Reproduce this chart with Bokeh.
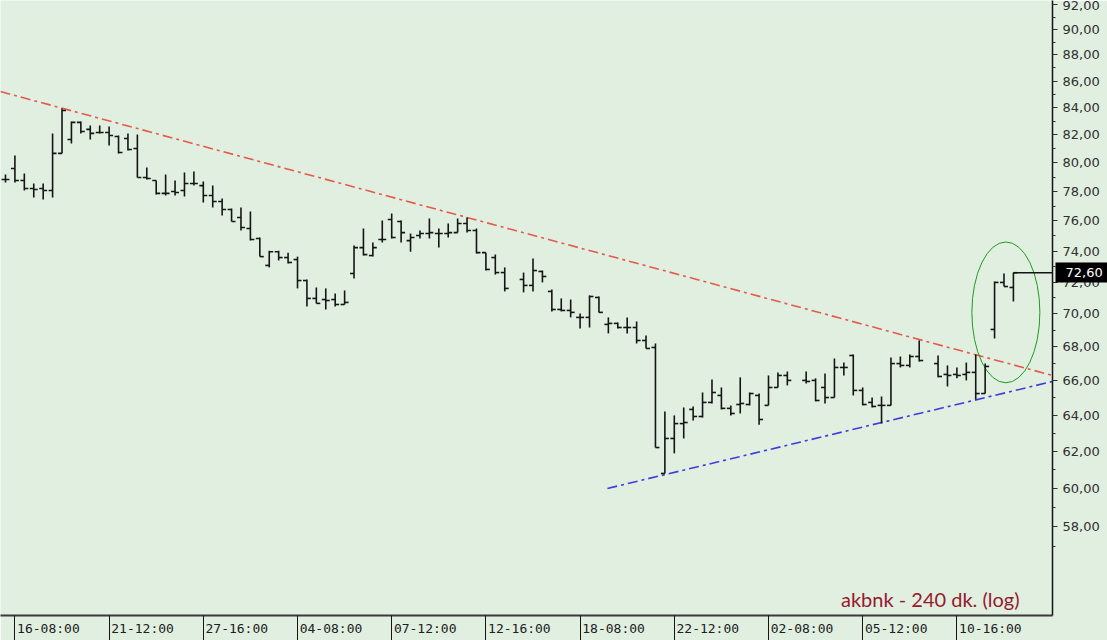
import numpy as np

from bokeh.plotting import figure
from bokeh.models import FixedTicker, Label, LogAxis, Range1d
from bokeh.embed import file_html
from bokeh.resources import INLINE

# 240-minute OHLC bars, one slot per bar (None = empty slot)
opens = [
    78.83, 79.60, 78.76, 78.21, 78.21, 78.07, 80.67, 81.67, 82.91, 82.40,
    82.18, 82.18, 81.89, 81.74, 81.02, 78.97, 78.76, 77.87, 78.00, 78.07,
    78.55, 78.41, 77.73, 77.32, 76.77, 76.23, 75.49, 74.83, 73.07, 73.96,
    73.58, 73.45, 72.10, 70.97, 70.90, 70.90, 70.59, 72.55, 74.23, 73.71,
    74.76, 76.10, 75.96, 74.69, 75.03, 75.16, 75.16, 75.16, 75.22, 75.83,
    75.36, 73.90, 73.58, 72.61, None, 72.17, 71.79, 72.68, 71.41, 70.28,
    70.22, 69.79, 69.79, 71.03, 69.36, 69.42, 69.17, 69.17, 68.38, 67.96,
    60.80, 62.71, 63.54, 64.34, 63.94, 64.74, 65.14, 64.40, 64.62, 64.62,
    65.14, 64.57, 65.60, 66.30, None, 66.01, 66.01, 65.60, 65.02, 66.77,
    67.48, 65.43, 64.74, 64.57, 64.57, 67.00, 66.89, 67.42, None, 67.00,
    66.36, 66.36, 66.36, 66.48, 65.25, 69.05, 71.98, 71.66,
]
highs = [
    79.18, 80.52, 79.25, 78.55, 78.55, 82.11, 83.94, 82.98, 82.98, 82.69,
    82.69, 82.62, 81.96, 82.11, 82.03, 79.67, 78.76, 79.18, 78.76, 79.32,
    79.39, 78.69, 78.41, 77.52, 76.84, 76.91, 76.63, 74.89, 74.03, 74.03,
    73.90, 73.64, 72.17, 71.66, 71.60, 71.28, 71.47, 74.36, 75.49, 74.56,
    76.03, 76.50, 76.03, 75.16, 75.36, 76.16, 75.49, 75.83, 76.16, 76.23,
    75.49, 73.90, 73.77, 72.94, None, 72.61, 73.52, 72.74, 71.53, 70.97,
    70.90, 70.03, 71.16, 71.09, 69.79, 69.48, 69.79, 69.54, 68.69, 68.20,
    64.22, 64.00, 64.45, 64.51, 65.31, 66.07, 65.60, 64.57, 66.19, 65.31,
    65.25, 66.30, 66.48, 66.53, None, 66.53, 66.13, 66.42, 67.30, 67.06,
    67.54, 65.60, 65.02, 65.08, 67.36, 67.42, 67.54, 68.38, None, 67.48,
    66.89, 66.77, 67.06, 67.54, 67.00, 72.04, 72.55, 72.60,
]
lows = [
    78.62, 78.62, 78.07, 77.59, 77.45, 77.59, 80.67, 81.38, 82.11, 81.67,
    82.11, 81.24, 80.67, 80.88, 78.97, 78.83, 77.80, 77.73, 77.73, 77.66,
    78.41, 77.25, 76.91, 76.36, 75.96, 75.36, 74.69, 73.64, 72.94, 73.39,
    73.20, 71.60, 70.47, 70.66, 70.28, 70.47, 70.59, 72.23, 73.71, 73.64,
    74.56, 74.83, 74.56, 73.96, 74.83, 74.83, 74.23, 74.89, 75.22, 75.22,
    73.84, 72.74, 72.48, 71.41, None, 71.35, 71.41, 71.98, 70.16, 70.16,
    69.79, 69.11, 69.17, 70.10, 68.81, 69.11, 68.81, 68.20, 67.90, 62.21,
    60.80, 61.89, 62.71, 63.71, 63.88, 64.68, 64.34, 64.00, 64.11, 64.57,
    63.48, 64.57, 65.60, 65.72, None, 65.83, 64.80, 64.68, 65.02, 66.30,
    65.14, 64.57, 64.45, 63.54, 64.57, 66.77, 66.77, 67.12, None, 66.19,
    65.66, 66.13, 66.01, 64.91, 65.25, 68.50, 71.72, 70.78,
]
closes = [
    78.83, 78.76, 78.21, 78.14, 78.07, 80.67, 83.79, 82.91, 82.25, 82.11,
    82.18, 81.96, 80.74, 80.95, 78.97, 78.90, 77.87, 77.87, 77.93, 78.55,
    78.55, 77.73, 77.32, 76.77, 75.96, 75.56, 74.76, 73.64, 73.96, 73.58,
    73.26, 72.10, 70.97, 70.66, 70.84, 70.59, 70.72, 74.23, 73.77, 74.23,
    74.76, 74.89, 75.22, 74.89, 75.16, 75.22, 75.16, 75.22, 75.83, 75.36,
    73.90, 72.81, 72.61, 71.60, None, 71.79, 72.74, 72.36, 70.28, 70.22,
    70.10, 69.79, 71.09, 70.10, 69.42, 69.17, 69.17, 68.38, 67.90, 62.21,
    62.71, 63.54, 63.60, 63.94, 64.74, 65.31, 64.40, 64.11, 64.68, 65.25,
    63.77, 65.60, 66.30, 66.01, None, 65.95, 64.85, 65.02, 66.77, 66.77,
    65.43, 64.62, 64.51, 64.57, 67.00, 66.89, 67.42, 67.18, None, 66.24,
    66.30, 66.30, 66.48, 65.25, 66.83, 71.98, 71.72, 72.60,
]

# time axis: a label every 10 bars
tick_bars = [1, 11, 21, 31, 41, 51, 61, 71, 81, 91, 101]
tick_labels = ["16-08:00", "21-12:00", "27-16:00", "04-08:00", "07-12:00", "12-16:00",
               "18-08:00", "22-12:00", "02-08:00", "05-12:00", "10-16:00"]

# price axis (log)
y_ticks = [58, 60, 62, 64, 66, 68, 70, 72, 74, 76, 78, 80, 82, 84, 86, 88, 90, 92]
y_tick_labels = ["58,00", "60,00", "62,00", "64,00", "66,00", "68,00", "70,00", "72,00", "74,00",
                 "76,00", "78,00", "80,00", "82,00", "84,00", "86,00", "88,00", "90,00", "92,00"]
y_minor = [57, 59, 61, 63, 65, 67, 69, 71, 73, 75, 77, 79, 81, 83, 85, 87, 89, 91, 93]

# drawn trend lines (bar index, price)
red_x = [-0.53, 111.15]
red_y = [85.20, 66.30]
blue_x = [63.9, 111.15]
blue_y = [60.00, 65.95]

# highlight ellipse centre (bar index, price)
ell_x = [106.2]
ell_y = [70.1]

chart_title = "akbnk - 240 dk. (log)"

BG = "#e1efe1"
BAR = "#151515"

x_start, x_end = -0.53, 111.15
y_low, y_high = 53.63, 92.34
W, H = 1107, 640
frame_w = 1052

p = figure(
    width=W,
    height=H,
    x_range=Range1d(x_start, x_end),
    y_range=Range1d(y_low, y_high),
    y_axis_type="log",
    y_axis_location="right",
    output_backend="svg",
    toolbar_location=None,
    min_border_left=0,
    min_border_top=0,
    min_border_right=W - frame_w,
    min_border_bottom=25,
)
p.background_fill_color = BG
p.border_fill_color = BG
p.outline_line_color = None
p.grid.visible = False

idx = np.arange(len(closes), dtype=float)
o = np.array(opens, dtype=float)
h = np.array(highs, dtype=float)
l = np.array(lows, dtype=float)
c = np.array(closes, dtype=float)
tick_w = 0.42

# trend lines and ellipse
p.line(red_x, red_y, line_color="#e45a4c", line_width=1.6, line_dash="10 4 3 4")
p.line(blue_x, blue_y, line_color="#3d3ddc", line_width=1.6, line_dash="10 4 3 4")
p.ellipse(x=ell_x, y=ell_y, width=68, height=141, width_units="screen",
          height_units="screen", fill_color=None, line_color="#1f9a1f", line_width=1)

# OHLC bars
p.segment(x0=idx, y0=l, x1=idx, y1=h, line_color=BAR, line_width=1.6)
p.segment(x0=idx - tick_w, y0=o, x1=idx, y1=o, line_color=BAR, line_width=1.6)
p.segment(x0=idx, y0=c, x1=idx + tick_w, y1=c, line_color=BAR, line_width=1.6)

# last price line to the axis
last_i = len(closes) - 1
p.segment(x0=[last_i], y0=[closes[-1]], x1=[x_end], y1=[closes[-1]],
          line_color=BAR, line_width=1.6)

# bottom axis: separators as minor ticks, labels to the right of them
px_per_bar = frame_w / (x_end - x_start)
shift = 33.5 / px_per_bar
label_pos = [round(t + shift, 3) for t in tick_bars]
xax = p.xaxis[0]
xax.ticker = FixedTicker(ticks=label_pos, minor_ticks=tick_bars)
xax.major_label_overrides = dict(zip(label_pos, tick_labels))
xax.major_tick_out = 0
xax.major_tick_in = 0
xax.minor_tick_out = 25
xax.minor_tick_in = 0
xax.minor_tick_line_color = BAR
xax.minor_tick_line_width = 1
xax.axis_line_color = "#3a3a3a"
xax.axis_line_width = 2
xax.major_label_standoff = -20
xax.major_label_text_font = "DejaVu Sans Mono"
xax.major_label_text_font_size = "13px"
xax.major_label_text_color = "#202020"

# right price axis
yax = p.yaxis[0]
yax.ticker = FixedTicker(ticks=y_ticks, minor_ticks=y_minor)
yax.major_label_overrides = dict(zip(y_ticks, y_tick_labels))
yax.axis_line_color = BAR
yax.axis_line_width = 1.5
yax.major_tick_out = 5
yax.major_tick_in = 0
yax.minor_tick_out = 3
yax.minor_tick_in = 0
yax.major_tick_line_color = "#303030"
yax.minor_tick_line_color = "#303030"
yax.major_label_standoff = 5
yax.major_label_text_font = "DejaVu Sans"
yax.major_label_text_font_size = "13px"
yax.major_label_text_color = "#303030"

# current price tag: a one-tick axis whose wide tick forms the black box
last_price = closes[-1]
tag_axis = LogAxis(
    ticker=FixedTicker(ticks=[last_price], minor_ticks=[]),
    major_label_overrides={last_price: f"{last_price:.2f}".replace(".", ",")},
    axis_line_color=None,
    major_tick_in=47,
    major_tick_out=7,
    major_tick_line_width=20,
    major_tick_line_color="black",
    minor_tick_line_color=None,
    major_label_standoff=-44,
    major_label_text_color="white",
    major_label_text_font="DejaVu Sans",
    major_label_text_font_size="13px",
)
p.add_layout(tag_axis, "right")

title = Label(
    x=1019, y=17, x_units="screen", y_units="screen", text=chart_title,
    text_align="right", text_baseline="middle", text_color="#961a2e",
    text_font="Lato", text_font_size="20px",
)
p.add_layout(title)

open("out.html", "w").write(file_html(p, INLINE))
